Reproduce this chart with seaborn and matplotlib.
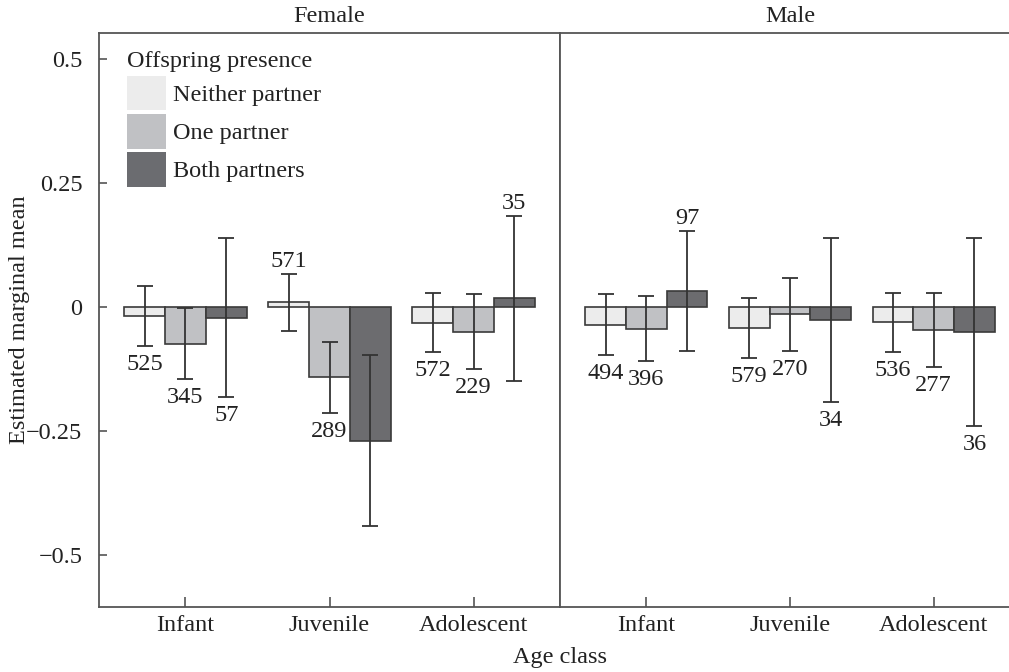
import pandas as pd
import seaborn as sns
import matplotlib.pyplot as plt
from matplotlib.patches import Patch

# Data
ages = ['Infant', 'Juvenile', 'Adolescent']
presence = ['Neither partner', 'One partner', 'Both partners']
sexes = ['Female', 'Male']

# rows = age class, columns = offspring presence
female_means = [[-0.018, -0.074, -0.022],
                [0.009, -0.142, -0.270],
                [-0.032, -0.050, 0.017]]
female_err = [[0.060, 0.072, 0.160],
              [0.058, 0.072, 0.172],
              [0.059, 0.076, 0.166]]
female_n = [['525', '345', '57'],
            ['571', '289', ''],
            ['572', '229', '35']]
female_side = [['below', 'below', 'below'],
               ['above', 'below', 'below'],
               ['below', 'below', 'above']]

male_means = [[-0.036, -0.044, 0.032],
              [-0.043, -0.015, -0.027],
              [-0.031, -0.047, -0.051]]
male_err = [[0.062, 0.066, 0.121],
            [0.060, 0.074, 0.165],
            [0.059, 0.075, 0.190]]
male_n = [['494', '396', '97'],
          ['579', '270', '34'],
          ['536', '277', '36']]
male_side = [['below', 'below', 'above'],
             ['below', 'below', 'below'],
             ['below', 'below', 'below']]

yticks = [-0.5, -0.25, 0, 0.25, 0.5]
ytick_labels = ['\u22120.5', '\u22120.25', '0', '0.25', '0.5']

colors = {'Neither partner': '#ececec', 'One partner': '#c0c1c4', 'Both partners': '#6b6c70'}
edge = '#3a3a3a'
txt = '#222222'
fs = 17.5

sns.set_style('white')
plt.rcParams['font.family'] = ['Liberation Serif', 'DejaVu Serif']
plt.rcParams['font.size'] = fs


def to_frame(means, errs, ns, sides):
    rows = []
    for i, a in enumerate(ages):
        for j, p in enumerate(presence):
            rows.append({'age': a, 'presence': p, 'mean': means[i][j],
                         'err': errs[i][j], 'n': ns[i][j], 'side': sides[i][j]})
    return pd.DataFrame(rows)


frames = {'Female': to_frame(female_means, female_err, female_n, female_side),
          'Male': to_frame(male_means, male_err, male_n, male_side)}

W, H = 1009, 672
fig = plt.figure(figsize=(W / 100, H / 100), dpi=100)
bottom, top = 607, 33
ax_h = (bottom - top) / H
ax_l = fig.add_axes([99 / W, (H - bottom) / H, 461 / W, ax_h])
ax_r = fig.add_axes([560 / W, (H - bottom) / H, 460 / W, ax_h])

for ax, sex in zip([ax_l, ax_r], sexes):
    df = frames[sex]
    sns.barplot(data=df, x='age', y='mean', hue='presence', order=ages,
                hue_order=presence, palette=colors, width=0.85, errorbar=None,
                edgecolor=edge, linewidth=1.2, legend=False, ax=ax, zorder=2)
    bar_groups = list(ax.containers)
    for k, cont in enumerate(bar_groups):
        sub = df[df['presence'] == presence[k]].set_index('age').loc[ages]
        for bar, (_, row) in zip(cont, sub.iterrows()):
            x = bar.get_x() + bar.get_width() / 2
            y = row['mean']
            ax.errorbar(x, y, yerr=row['err'], color='#333333', lw=1.3,
                        capsize=5.8, capthick=1.3, zorder=3)
            if row['n']:
                if row['side'] == 'above':
                    ax.annotate(row['n'], (x, y + row['err']), xytext=(0, 5),
                                textcoords='offset points', ha='center',
                                va='baseline', fontsize=fs, color=txt)
                else:
                    ax.annotate(row['n'], (x, y - row['err']), xytext=(0, -17.3),
                                textcoords='offset points', ha='center',
                                va='baseline', fontsize=fs, color=txt)
    ax.set_xlim(-0.6, 2.6)
    ax.set_ylim(-0.605, 0.552)
    ax.set_xlabel('')
    ax.set_ylabel('')
    ax.set_title(sex, fontsize=fs, pad=8, color=txt)
    for s in ax.spines.values():
        s.set_color('#555555')
        s.set_linewidth(1.3)
    ax.tick_params(axis='x', direction='in', length=7, width=1.2, color='#555555',
                   pad=6, labelsize=fs, labelcolor=txt, bottom=True)

ax_l.set_yticks(yticks)
ax_l.set_yticklabels(ytick_labels)
ax_l.tick_params(axis='y', direction='in', length=6, width=1.2, color='#555555',
                 pad=12, labelsize=fs, labelcolor=txt, left=True)
ax_r.set_yticks([])

fig.text(20 / W, 1 - 320 / H, 'Estimated marginal mean', rotation=90,
         ha='center', va='center', fontsize=fs, color=txt)
fig.text(560 / W, 1 - 657 / H, 'Age class', ha='center', va='center',
         fontsize=fs, color=txt)

handles = [Patch(facecolor=colors[p], edgecolor='none') for p in presence]
leg = ax_l.legend(handles, presence, title='Offspring presence', loc='upper left',
                  bbox_to_anchor=((127 - 99) / 461, 1 - (51 - 33) / 574),
                  frameon=False, borderpad=0, borderaxespad=0,
                  handlelength=1.6, handleheight=1.8, labelspacing=0.16,
                  handletextpad=0.3, fontsize=fs, title_fontsize=fs,
                  alignment='left')
for t in leg.get_texts():
    t.set_color(txt)
leg.get_title().set_color(txt)

fig.savefig('out.png', dpi=100)
